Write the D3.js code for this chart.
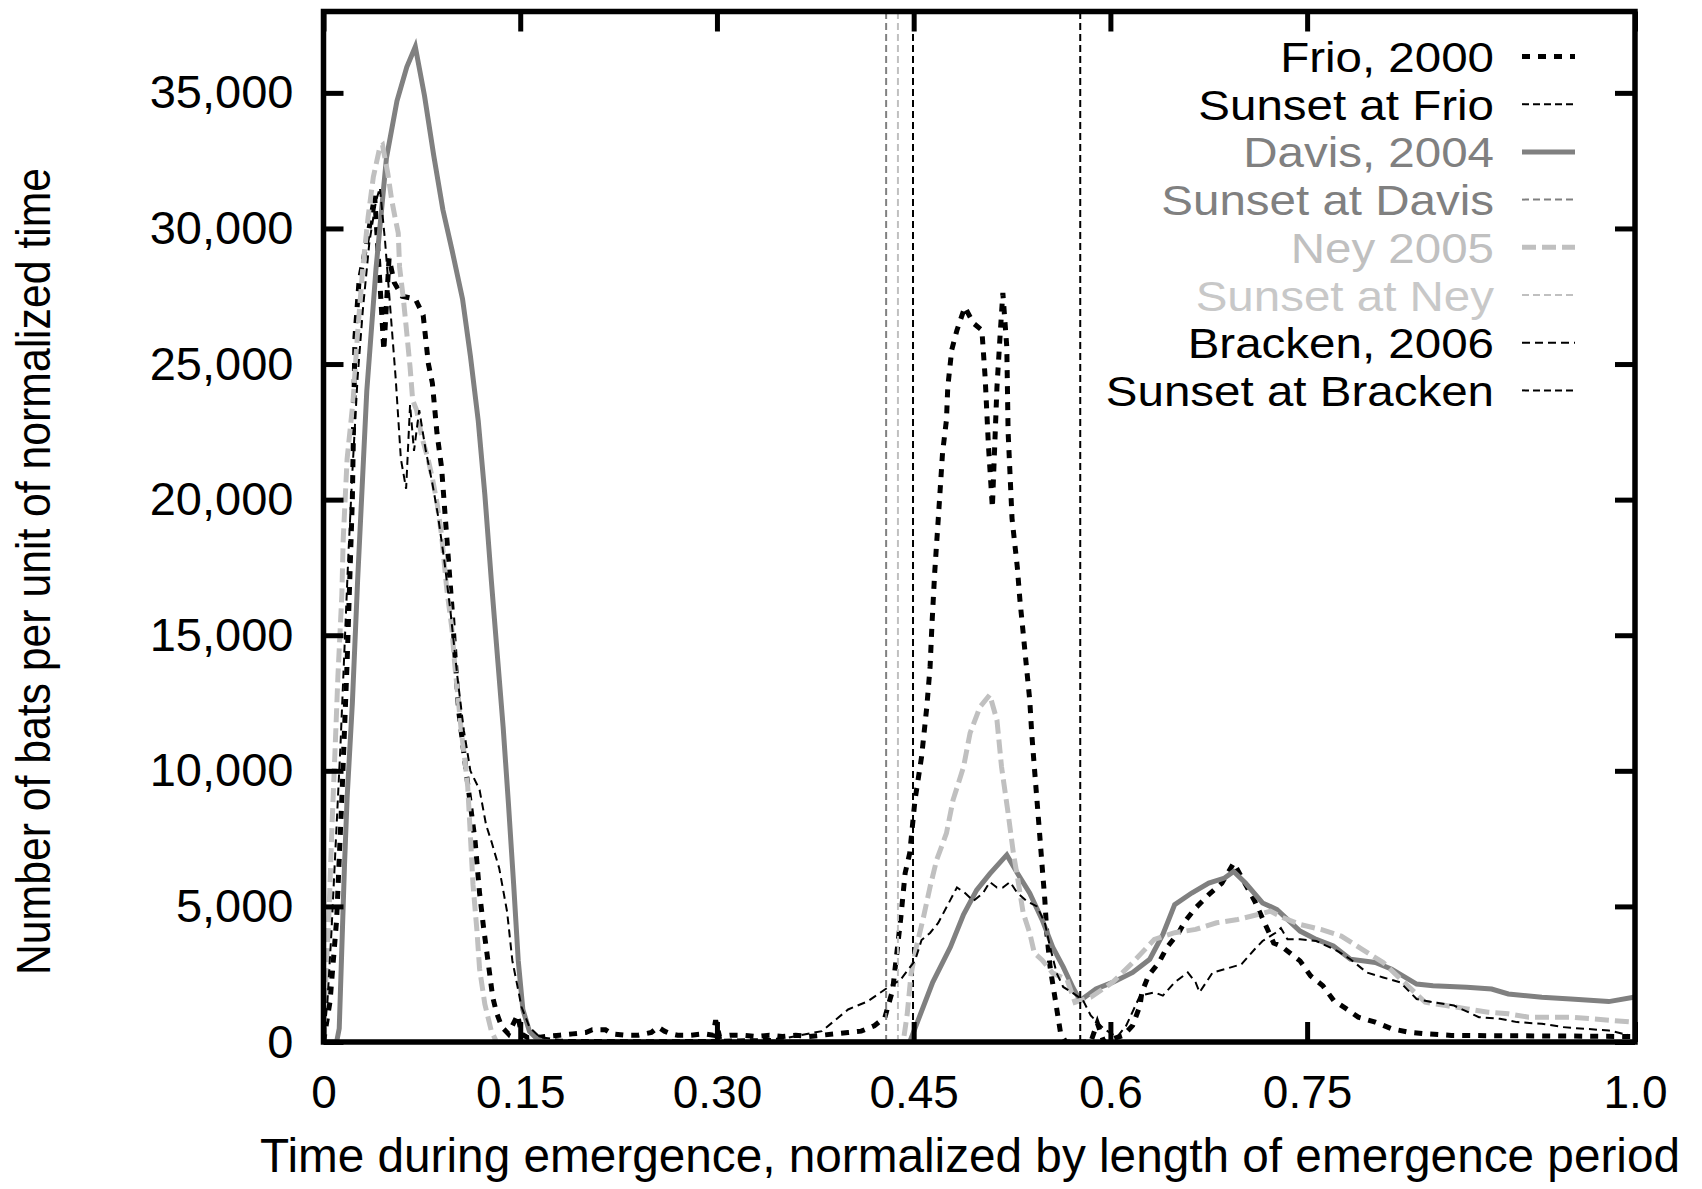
<!DOCTYPE html>
<html>
<head>
<meta charset="utf-8">
<script src="https://cdn.jsdelivr.net/npm/d3@7"></script>
<style>
  html, body { margin: 0; padding: 0; background: #fff; }
  svg { display: block; }
  text { font-family: "Liberation Sans", Arial, Helvetica, sans-serif; }
</style>
</head>
<body>
<svg id="chart" width="1702" height="1189"></svg>
<script>
// ---------------- DATA ----------------
const xTickValues = [0, 0.15, 0.30, 0.45, 0.6, 0.75, 1.0];
const xTickLabels = ["0", "0.15", "0.30", "0.45", "0.6", "0.75", "1.0"];
const yTickValues = [0, 5000, 10000, 15000, 20000, 25000, 30000, 35000];

const frio2000 = [
  [0,0],[0.005,1500],[0.01,4500],[0.014,9000],[0.018,14000],[0.022,20000],[0.024,26000],[0.027,28000],
  [0.033,29500],[0.039,31200],[0.043,28000],[0.046,25500],[0.05,28900],[0.054,28000],[0.06,27500],
  [0.07,27400],[0.076,26800],[0.08,25000],[0.083,24300],[0.0865,22460],[0.09,21200],[0.094,18600],
  [0.098,16000],[0.1,14450],[0.103,12240],[0.107,10660],[0.11,9500],[0.1155,7450],[0.119,5490],
  [0.122,4240],[0.124,3500],[0.127,2400],[0.129,1660],[0.132,1070],[0.136,550],[0.141,300],
  [0.145,700],[0.148,1000],[0.151,300],[0.156,150],[0.165,180],[0.18,250],[0.19,300],[0.2,350],
  [0.205,450],[0.215,450],[0.22,300],[0.23,250],[0.24,250],[0.25,350],[0.255,550],[0.26,400],
  [0.265,300],[0.27,250],[0.28,250],[0.29,300],[0.297,250],[0.299,800],[0.302,200],[0.31,250],
  [0.32,250],[0.33,200],[0.34,250],[0.35,200],[0.36,250],[0.37,200],[0.38,250],[0.39,300],
  [0.40,350],[0.41,400],[0.42,600],[0.428,900],[0.434,1920],[0.44,4500],[0.4435,6230],[0.447,6970],
  [0.451,8920],[0.456,10510],[0.46,12350],[0.4625,13830],[0.464,15450],[0.466,17290],[0.4687,19250],
  [0.472,21720],[0.475,22940],[0.476,24150],[0.479,25520],[0.483,26250],[0.489,27100],[0.4955,26510],
  [0.502,26250],[0.5045,24500],[0.507,22000],[0.51,19700],[0.5135,24150],[0.516,26140],[0.518,27620],
  [0.521,25630],[0.522,22500],[0.525,19300],[0.529,17520],[0.531,16300],[0.5335,15080],[0.536,13830],
  [0.5385,12610],[0.54,11390],[0.542,10140],[0.544,8920],[0.546,7700],[0.548,6450],[0.55,5240],
  [0.5515,4020],[0.554,2770],[0.558,1550],[0.562,330],[0.566,0],[0.585,0],[0.59,700],[0.595,0],
  [0.61,244],[0.617,610],[0.6226,1343],[0.624,1832],[0.629,2442],[0.637,2930],[0.643,3480],
  [0.652,4029],[0.657,4457],[0.665,4945],[0.675,5433],[0.685,5861],[0.691,6349],[0.694,6600],
  [0.71,5200],[0.7245,3650],[0.73,3541],[0.7446,2991],[0.7526,2442],[0.762,2076],[0.7703,1526],
  [0.78,1221],[0.789,916],[0.802,733],[0.8145,488],[0.827,366],[0.84,305],[0.86,244],[0.9,230],
  [0.95,220],[1.0,200]
];

const davis2004 = [
  [0,0],[0.01,0],[0.012,500],[0.014,3500],[0.016,6500],[0.018,9000],[0.022,12500],[0.026,17000],
  [0.029,20000],[0.033,24000],[0.04,28500],[0.048,32600],[0.056,34700],[0.0635,35950],[0.07,36700],
  [0.077,34900],[0.084,32700],[0.091,30700],[0.098,29200],[0.106,27400],[0.112,25300],[0.118,22900],
  [0.123,20200],[0.128,17000],[0.133,14000],[0.137,11600],[0.141,8800],[0.145,5800],[0.1485,3000],
  [0.152,1200],[0.157,400],[0.163,100],[0.17,0],[0.447,0],[0.4645,2200],[0.478,3500],[0.488,4700],
  [0.498,5600],[0.508,6200],[0.521,6900],[0.529,6230],[0.5385,5490],[0.548,4500],[0.556,3500],
  [0.564,2770],[0.5715,2000],[0.577,1526],[0.589,1954],[0.6016,2198],[0.617,2564],[0.63,3052],
  [0.64,3968],[0.649,5067],[0.662,5494],[0.675,5861],[0.687,6044],[0.694,6288],[0.703,5861],
  [0.716,5128],[0.727,4884],[0.7446,4090],[0.757,3785],[0.77,3541],[0.783,3052],[0.802,2930],
  [0.8145,2686],[0.8335,2137],[0.846,2076],[0.8717,2015],[0.8907,1954],[0.9034,1770],[0.929,1648],
  [0.951,1587],[0.98,1490],[0.999,1648]
];

const ney2005 = [
  [0,0],[0.001,1500],[0.004,4500],[0.0065,8000],[0.009,11000],[0.011,13500],[0.014,16500],
  [0.015,18500],[0.018,21500],[0.0226,23670],[0.026,26140],[0.03,28580],[0.034,30420],[0.038,31900],
  [0.043,33000],[0.045,33075],[0.049,32040],[0.052,31050],[0.0545,30420],[0.057,29830],[0.058,28580],
  [0.061,27360],[0.0635,26140],[0.066,24890],[0.068,23670],[0.071,23300],[0.075,22300],[0.0797,21500],
  [0.083,20800],[0.0865,19900],[0.09,18700],[0.094,16700],[0.098,15200],[0.1,13950],[0.1026,12700],
  [0.105,11500],[0.108,10300],[0.11,9400],[0.112,7600],[0.114,5800],[0.117,4100],[0.119,2700],
  [0.123,1400],[0.128,400],[0.132,0],[0.442,0],[0.445,1000],[0.448,2500],[0.452,3500],[0.457,4500],
  [0.4625,5720],[0.4675,6710],[0.475,7700],[0.48,8920],[0.488,10140],[0.493,11390],[0.5005,12350],
  [0.508,12800],[0.5135,11870],[0.517,10140],[0.522,8440],[0.526,6970],[0.5295,5970],[0.5335,4760],
  [0.5385,4020],[0.542,3280],[0.548,3020],[0.556,2540],[0.567,2290],[0.573,1465],[0.585,1648],
  [0.6016,2198],[0.617,2930],[0.6335,3785],[0.649,4029],[0.665,4151],[0.681,4396],[0.697,4518],
  [0.7125,4701],[0.722,4823],[0.7318,4579],[0.7446,4335],[0.7605,4151],[0.776,3907],[0.792,3419],
  [0.808,2930],[0.824,2198],[0.84,1465],[0.856,1343],[0.872,1221],[0.888,1099],[0.9034,1038],
  [0.919,916],[0.935,916],[0.951,916],[0.967,855],[0.983,794],[0.999,733]
];

const bracken2006 = [
  [0,0],[0.003,1500],[0.006,4000],[0.01,8000],[0.013,11000],[0.016,14500],[0.019,18000],[0.022,21000],
  [0.026,24500],[0.03,27000],[0.035,29500],[0.04,31000],[0.043,31500],[0.047,29500],[0.051,27000],
  [0.055,24500],[0.059,21500],[0.063,20400],[0.066,23500],[0.069,21800],[0.073,23300],[0.078,21800],
  [0.083,20600],[0.087,19500],[0.092,17800],[0.097,15800],[0.102,13500],[0.107,11500],[0.112,10000],
  [0.119,9300],[0.124,8000],[0.128,7400],[0.134,6400],[0.14,4800],[0.144,3000],[0.148,2030],
  [0.151,1290],[0.157,550],[0.165,180],[0.18,80],[0.25,60],[0.3,80],[0.35,120],[0.38,400],[0.4,1200],
  [0.415,1500],[0.43,2000],[0.44,2300],[0.451,3000],[0.456,3760],[0.4625,4020],[0.4687,4390],
  [0.478,5240],[0.483,5700],[0.489,5500],[0.4955,5200],[0.503,5500],[0.508,5900],[0.5135,5700],
  [0.518,5700],[0.5235,5900],[0.529,5500],[0.536,5200],[0.544,5000],[0.55,4400],[0.554,3500],
  [0.559,2540],[0.564,2030],[0.5715,1800],[0.579,1550],[0.585,977],[0.595,488],[0.605,183],
  [0.612,600],[0.6226,1710],[0.6335,1832],[0.64,1710],[0.649,2198],[0.659,2564],[0.665,2198],
  [0.668,1832],[0.678,2564],[0.6873,2686],[0.7,2870],[0.71,3419],[0.716,3724],[0.726,4029],
  [0.73,4200],[0.735,3785],[0.7446,3785],[0.757,3724],[0.773,3358],[0.783,3052],[0.7955,2564],
  [0.808,2381],[0.821,2198],[0.8335,1587],[0.846,1465],[0.862,1343],[0.881,916],[0.897,855],
  [0.91,733],[0.929,672],[0.945,549],[0.961,488],[0.98,427],[0.996,244]
];

// sunset times (normalized)
const sunsetFrio = 0.4495;
const sunsetDavis = 0.429;
const sunsetNey = 0.438;
const sunsetBracken = 0.577;

const legendLabels = ["Frio, 2000", "Sunset at Frio", "Davis, 2004", "Sunset at Davis",
                      "Ney 2005", "Sunset at Ney", "Bracken, 2006", "Sunset at Bracken"];

// ---------------- STYLES ----------------
const styles = {
  frio:     {color: "#000000", width: 5, dash: "8,8"},
  sFrio:    {color: "#000000", width: 2, dash: "7,4"},
  davis:    {color: "#808080", width: 5, dash: null},
  sDavis:   {color: "#808080", width: 2, dash: "7,4"},
  ney:      {color: "#c0c0c0", width: 5, dash: "14,6"},
  sNey:     {color: "#c0c0c0", width: 2, dash: "7,4"},
  bracken:  {color: "#000000", width: 2, dash: "8,5"},
  sBracken: {color: "#000000", width: 2, dash: "7,4"}
};
const legendText = ["#000000","#000000","#808080","#808080","#c0c0c0","#c8c8c8","#000000","#000000"];
const legendStyle = ["frio","sFrio","davis","sDavis","ney","sNey","bracken","sBracken"];

// ---------------- LAYOUT ----------------
const L = 323.5, R = 1635, T = 11.5, B = 1042;
const svg = d3.select("#chart");
const x = d3.scaleLinear().domain([0, 1]).range([L, R]);
const y = d3.scaleLinear().domain([0, 38000]).range([B, T]);

svg.append("defs").append("clipPath").attr("id", "clip")
  .append("rect").attr("x", L).attr("y", T).attr("width", R - L).attr("height", B - T);

const plot = svg.append("g").attr("clip-path", "url(#clip)");
const line = d3.line().x(d => x(d[0])).y(d => y(d[1]));

function drawSeries(data, st) {
  const p = plot.append("path").datum(data)
    .attr("d", line).attr("fill", "none")
    .attr("stroke", st.color).attr("stroke-width", st.width)
    .attr("stroke-linejoin", "miter").attr("stroke-linecap", "butt");
  if (st.dash) p.attr("stroke-dasharray", st.dash);
}
function drawSunset(v, st) {
  plot.append("line")
    .attr("x1", x(v)).attr("x2", x(v)).attr("y1", y(0)).attr("y2", y(38000))
    .attr("stroke", st.color).attr("stroke-width", st.width).attr("stroke-dasharray", st.dash);
}

drawSeries(frio2000, styles.frio);
drawSunset(sunsetFrio, styles.sFrio);
drawSeries(davis2004, styles.davis);
drawSunset(sunsetDavis, styles.sDavis);
drawSeries(ney2005, styles.ney);
drawSunset(sunsetNey, styles.sNey);
drawSeries(bracken2006, styles.bracken);
drawSunset(sunsetBracken, styles.sBracken);

// ---------------- AXES ----------------
const tickLen = 20;
const fmtX = (d, i) => xTickLabels[i];
const fmtY = d => d3.format(",")(d);

const gx = svg.append("g").attr("transform", `translate(0,${B})`)
  .call(d3.axisBottom(x).tickValues(xTickValues).tickFormat(fmtX).tickSizeInner(-tickLen).tickSizeOuter(0).tickPadding(33));
const gxt = svg.append("g").attr("transform", `translate(0,${T})`)
  .call(d3.axisTop(x).tickValues(xTickValues).tickFormat("").tickSizeInner(-tickLen).tickSizeOuter(0));
const gy = svg.append("g").attr("transform", `translate(${L},0)`)
  .call(d3.axisLeft(y).tickValues(yTickValues).tickFormat(fmtY).tickSizeInner(-tickLen).tickSizeOuter(0).tickPadding(30));
const gyr = svg.append("g").attr("transform", `translate(${R},0)`)
  .call(d3.axisRight(y).tickValues(yTickValues).tickFormat("").tickSizeInner(-tickLen).tickSizeOuter(0));

[gx, gxt, gy, gyr].forEach(g => {
  g.select(".domain").remove();
  g.selectAll(".tick line").attr("stroke", "#000").attr("stroke-width", 5);
  g.selectAll(".tick text").attr("fill", "#000").style("font-family", '"Liberation Sans", Arial, sans-serif');
});
gx.selectAll(".tick text").style("font-size", "46px");
gy.selectAll(".tick text").style("font-size", "47px");

// border
svg.append("rect").attr("x", L).attr("y", T).attr("width", R - L).attr("height", B - T)
  .attr("fill", "none").attr("stroke", "#000").attr("stroke-width", 5.5);

// axis titles
svg.append("text")
  .attr("x", 260).attr("y", 1172)
  .attr("textLength", 1420).attr("lengthAdjust", "spacingAndGlyphs")
  .style("font-size", "48px").attr("fill", "#000")
  .text("Time during emergence, normalized by length of emergence period");

svg.append("text")
  .attr("transform", "translate(50,571.5) rotate(-90)")
  .attr("text-anchor", "middle")
  .attr("textLength", 807).attr("lengthAdjust", "spacingAndGlyphs")
  .style("font-size", "48px").attr("fill", "#000")
  .text("Number of bats per unit of normalized time");

// ---------------- LEGEND ----------------
// rows are tightly packed as in the reference; glyphs are set at a slightly
// smaller size and stretched to the reference width so line boxes do not overlap
const legRight = 1494, sampleX1 = 1522, sampleX2 = 1575, row0 = 56.5, rowH = 47.7;
const leg = svg.append("g");
legendLabels.forEach((lab, i) => {
  const cy = row0 + i * rowH;
  const t = leg.append("text").attr("x", legRight).attr("y", cy + 15.5)
    .attr("text-anchor", "end").style("font-size", "47.5px")
    .attr("fill", legendText[i]).text(lab);
  const w = t.node().getComputedTextLength();
  t.style("font-size", "42px")
    .attr("textLength", w).attr("lengthAdjust", "spacingAndGlyphs");
  const st = styles[legendStyle[i]];
  const ln = leg.append("line").attr("x1", sampleX1).attr("x2", sampleX2)
    .attr("y1", cy).attr("y2", cy)
    .attr("stroke", st.color).attr("stroke-width", st.width);
  if (st.dash) ln.attr("stroke-dasharray", st.dash);
});
</script>
</body>
</html>
